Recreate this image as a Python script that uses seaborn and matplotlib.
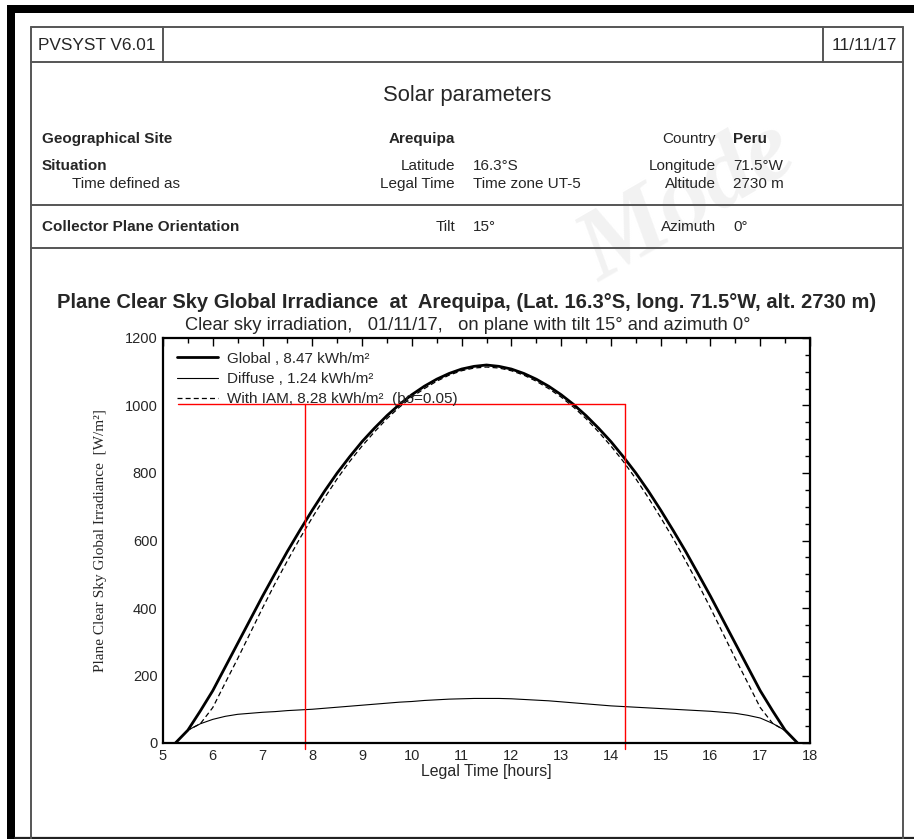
import numpy as np
import pandas as pd
import matplotlib.pyplot as plt
import seaborn as sns
from matplotlib.patches import Rectangle

# Data (W/m2 every quarter hour)
hours = [5.25, 5.5, 5.75, 6.0, 6.25, 6.5, 6.75, 7.0, 7.25, 7.5, 7.75, 8.0,
         8.25, 8.5, 8.75, 9.0, 9.25, 9.5, 9.75, 10.0, 10.25, 10.5, 10.75,
         11.0, 11.25, 11.5, 11.75, 12.0, 12.25, 12.5, 12.75, 13.0, 13.25,
         13.5, 13.75, 14.0, 14.25, 14.5, 14.75, 15.0, 15.25, 15.5, 15.75,
         16.0, 16.25, 16.5, 16.75, 17.0, 17.25, 17.5, 17.75]
global_irr = [0, 38, 95, 155, 225, 295, 365, 435, 502, 568, 630, 690,
              747, 800, 848, 893, 933, 970, 1003, 1032, 1057, 1078, 1095,
              1108, 1116, 1120, 1116, 1108, 1095, 1078, 1057, 1032, 1003,
              970, 933, 893, 848, 800, 747, 690, 630, 568, 502,
              435, 365, 295, 225, 155, 95, 38, 0]
diffuse_irr = [0, 38, 57, 70, 79, 85, 88, 91, 93, 96, 98, 100,
               103, 106, 109, 112, 115, 118, 121, 123, 126, 128, 130,
               131, 132, 132, 132, 131, 129, 127, 125, 122, 119,
               116, 113, 110, 108, 106, 104, 102, 100, 98, 96,
               94, 91, 88, 82, 74, 58, 37, 0]
iam_irr = [0, 38, 57, 105, 178, 250, 325, 400, 472, 540, 606, 668,
           727, 783, 834, 880, 922, 961, 995, 1025, 1050, 1072, 1090,
           1103, 1111, 1114, 1111, 1103, 1090, 1072, 1050, 1025, 995,
           961, 922, 880, 834, 783, 727, 668, 606, 540, 472,
           400, 325, 250, 178, 105, 58, 37, 0]

legend_labels = ["Global , 8.47 kWh/m²", "Diffuse , 1.24 kWh/m²",
                 "With IAM, 8.28 kWh/m²  (bo=0.05)"]

# red marker lines
red_level = 1005
red_start = 5.3
red_hours = [7.85, 14.28]
red_bottom = -18

df = pd.DataFrame({"hour": hours, "global": global_irr,
                   "diffuse": diffuse_irr, "iam": iam_irr})

sns.set_style("white")
plt.rcParams['font.family'] = ['Liberation Sans', 'DejaVu Sans']

W, H = 914, 839
fig = plt.figure(figsize=(W / 100, H / 100), dpi=100)

# background layer in pixel coordinates
bg = fig.add_axes([0, 0, 1, 1])
bg.set_xlim(0, W)
bg.set_ylim(H, 0)
bg.axis("off")

# thick black scan border
bg.add_patch(Rectangle((7, 5), W - 7, 8, color="black", lw=0))
bg.add_patch(Rectangle((7, 5), 8, H - 5, color="black", lw=0))
bg.plot([15, W], [837.5, 837.5], color="#222222", lw=1.6)

# page frame
fc = "#555555"
flw = 1.4
bg.plot([31, 31], [27, 839], color=fc, lw=flw)
bg.plot([903, 903], [27, 839], color=fc, lw=flw)
bg.plot([31, 903], [27, 27], color=fc, lw=flw)
bg.plot([31, 903], [62, 62], color=fc, lw=flw)
bg.plot([163, 163], [27, 62], color=fc, lw=flw)
bg.plot([823, 823], [27, 62], color=fc, lw=flw)
bg.plot([31, 903], [205, 205], color=fc, lw=flw)
bg.plot([31, 903], [248, 248], color=fc, lw=flw)

# watermark
bg.text(688, 203, "Mode", fontsize=72, family="Liberation Serif",
        fontweight="bold", style="italic", color="#f2f2f2", rotation=30,
        ha="center", va="center", zorder=0)

# header texts
fs = 11
bg.text(38, 45, "PVSYST V6.01", fontsize=12.4, va="center")
bg.text(897, 45, "11/11/17", fontsize=12.4, va="center", ha="right")
bg.text(467, 95, "Solar parameters", fontsize=15.8, va="center", ha="center")

bg.text(42, 139, "Geographical Site", fontsize=fs, fontweight="bold", va="center")
bg.text(455, 139, "Arequipa", fontsize=fs, fontweight="bold", va="center", ha="right")
bg.text(716, 139, "Country", fontsize=fs, va="center", ha="right")
bg.text(733, 139, "Peru", fontsize=fs, fontweight="bold", va="center")

bg.text(42, 166, "Situation", fontsize=fs, fontweight="bold", va="center")
bg.text(455, 166, "Latitude", fontsize=fs, va="center", ha="right")
bg.text(473, 166, "16.3°S", fontsize=fs, va="center")
bg.text(716, 166, "Longitude", fontsize=fs, va="center", ha="right")
bg.text(733, 166, "71.5°W", fontsize=fs, va="center")

bg.text(72, 184, "Time defined as", fontsize=fs, va="center")
bg.text(455, 184, "Legal Time", fontsize=fs, va="center", ha="right")
bg.text(473, 184, "Time zone UT-5", fontsize=fs, va="center")
bg.text(716, 184, "Altitude", fontsize=fs, va="center", ha="right")
bg.text(733, 184, "2730 m", fontsize=fs, va="center")

bg.text(42, 227, "Collector Plane Orientation", fontsize=fs, fontweight="bold", va="center")
bg.text(455, 227, "Tilt", fontsize=fs, va="center", ha="right")
bg.text(473, 227, "15°", fontsize=fs, va="center")
bg.text(716, 227, "Azimuth", fontsize=fs, va="center", ha="right")
bg.text(733, 227, "0°", fontsize=fs, va="center")

# chart titles
bg.text(467, 302, "Plane Clear Sky Global Irradiance  at  Arequipa, (Lat. 16.3°S, "
        "long. 71.5°W, alt. 2730 m)", fontsize=14.5, fontweight="bold",
        ha="center", va="center")
bg.text(468, 326, "Clear sky irradiation,   01/11/17,   on plane with tilt 15° "
        "and azimuth 0°", fontsize=13.2, ha="center", va="center")

# main chart
x0, x1, y0, y1 = 163, 810, 338, 743
ax = fig.add_axes([x0 / W, 1 - y1 / H, (x1 - x0) / W, (y1 - y0) / H])
ax.patch.set_alpha(0)

sns.lineplot(data=df, x="hour", y="global", ax=ax, color="black", lw=2.0,
             label=legend_labels[0])
sns.lineplot(data=df, x="hour", y="diffuse", ax=ax, color="black", lw=0.8,
             label=legend_labels[1])
sns.lineplot(data=df, x="hour", y="iam", ax=ax, color="black", lw=0.9,
             ls=(0, (4, 2.5)), label=legend_labels[2])

ax.plot([red_start, red_hours[1]], [red_level, red_level], color="red", lw=1.0)
for h in red_hours:
    ax.plot([h, h], [red_level, red_bottom], color="red", lw=1.0, clip_on=False)

ax.set_xlim(5, 18)
ax.set_ylim(0, 1200)
ax.set_xticks(np.arange(5, 19, 1))
ax.set_xticks(np.arange(5, 18.01, 0.5), minor=True)
ax.set_yticks(np.arange(0, 1201, 200))
ax.set_yticks(np.arange(0, 1201, 50), minor=True)
ax.tick_params(which="both", direction="in", top=True, right=True,
               labelsize=10.5, width=1.0, color="black")
ax.tick_params(which="major", length=5.5, pad=4)
ax.tick_params(which="minor", length=3.5)
for s in ax.spines.values():
    s.set_linewidth(1.6)
    s.set_color("black")

ax.set_xlabel("Legal Time [hours]", fontsize=11.4, labelpad=1)
ax.set_ylabel("Plane Clear Sky Global Irradiance  [W/m²]", fontsize=11,
              family="Liberation Serif")
ax.yaxis.set_label_coords(-0.087, 0.5)

leg = ax.legend(loc="upper left", frameon=False, fontsize=11, handlelength=2.7,
                labelspacing=0.4, borderaxespad=0.5, handletextpad=0.6)

fig.savefig("out.png", dpi=100)
